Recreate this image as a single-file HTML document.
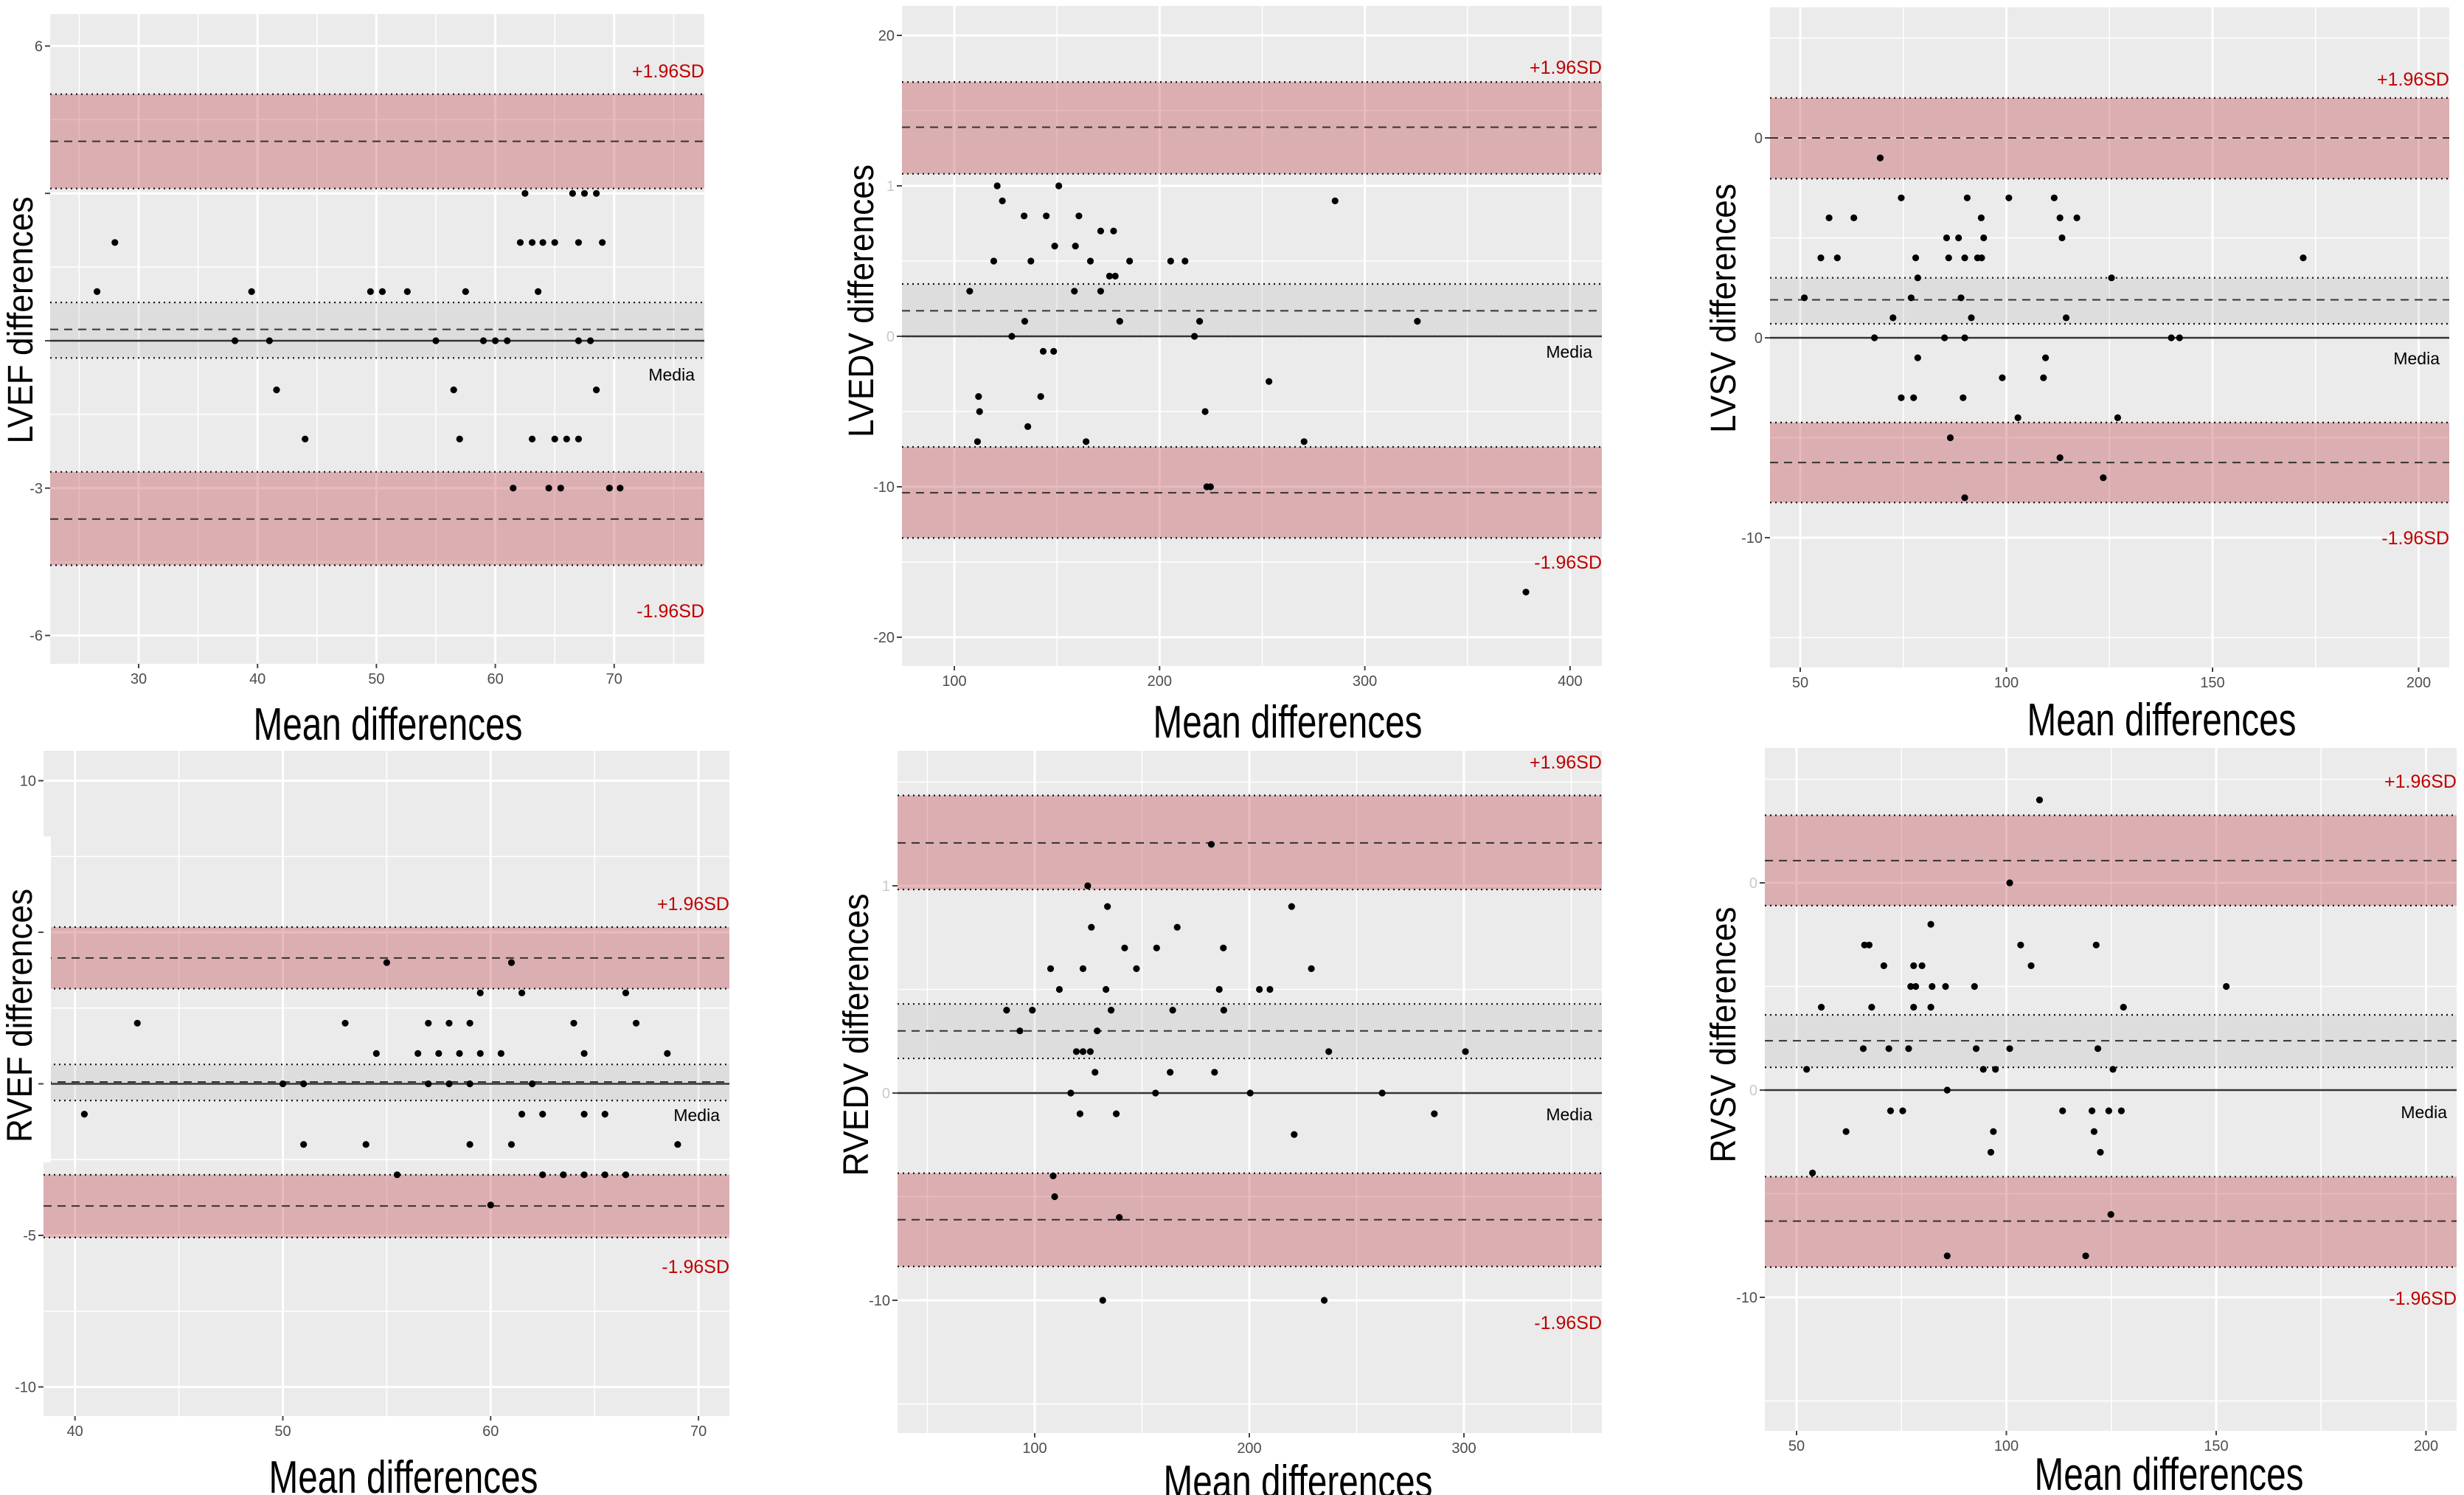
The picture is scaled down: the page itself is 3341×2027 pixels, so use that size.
<!DOCTYPE html>
<html><head><meta charset="utf-8"><style>
html,body{margin:0;padding:0;background:#fff;}
svg{display:block;}
</style></head><body>
<svg id="fig" xmlns="http://www.w3.org/2000/svg" width="3341" height="2027" viewBox="0 0 3341 2027" style="font-family:'Liberation Sans',sans-serif;"></svg>
<script>
// ---------- DATA ----------
// Panel 1: LVEF
const lvefMean = [62.5,66.5,67.5,68.5, 28.0,62.1,63.1,64.0,65.0,67.0,69.0, 26.5,39.5,49.5,50.5,52.6,57.5,63.6, 38.1,41.0,55.0,59.0,60.0,61.0,67.0,68.0, 41.6,56.5,68.5, 44.0,57.0,63.1,65.0,66.0,67.0, 61.5,64.5,65.5,69.6,70.5];
const lvefDiff = [3,3,3,3, 2,2,2,2,2,2,2, 1,1,1,1,1,1,1, 0,0,0,0,0,0,0,0, -1,-1,-1, -2,-2,-2,-2,-2,-2, -3,-3,-3,-3,-3];
const lvefLimits = [5.02,4.06,3.1, 0.78,0.23,-0.35, -2.67,-3.63,-4.57];
// Panel 2: LVEDV
const lvedvMean = [120.9,150.9,123.4,285.5,134,144.8,160.7,171.3,177.6,148.9,159,119.2,137.3,166.3,185.4,205.4,212.4,175.6,178.4,107.5,158.5,171.3,134.3,180.6,219.5,325.6,128,217,143.3,148.4,253.3,111.8,142.1,112.3,222.2,135.8,111.3,164.2,270.4,223,224.8,378.5];
const lvedvDiff = [10,10,9,9,8,8,8,7,7,6,6,5,5,5,5,5,5,4,4,3,3,3,1,1,1,1,0,0,-1,-1,-3,-4,-4,-5,-5,-6,-7,-7,-7,-10,-10,-17];
const lvedvLimits = [16.9,13.9,10.8, 3.48,1.7,0.0, -7.35,-10.4,-13.4];
// Panel 3: LVSV
const lvsvMean = [69.4,74.5,90.5,100.6,111.6,57,63,93.9,113,117.1,85.5,88.4,94.5,113.5,55,59,78,86,89.9,93,94,172,78.5,125.5,51,76.9,89,72.5,91.5,114.5,68,85,89.9,140,142,78.5,109.5,99,109,74.5,77.5,89.5,102.8,127,86.4,113,123.5,89.9];
const lvsvDiff = [9,7,7,7,7,6,6,6,6,6,5,5,5,5,4,4,4,4,4,4,4,4,3,3,2,2,2,1,1,1,0,0,0,0,0,-1,-1,-2,-2,-3,-3,-3,-4,-4,-5,-6,-7,-8];
const lvsvLimits = [12.0,10.0,7.96, 3.0,1.9,0.7, -4.24,-6.24,-8.24];
// Panel 4: RVEF
const rvefMean = [55,61,59.5,61.5,66.5,43,53,57,58,59,64,67,54.5,56.5,57.5,58.5,59.5,60.5,64.5,68.5,50,51,57,58,59,62,40.45,61.5,62.5,64.5,65.5,51,54,59,61,69,55.5,62.5,63.5,64.5,65.5,66.5,60];
const rvefDiff = [4,4,3,3,3,2,2,2,2,2,2,2,1,1,1,1,1,1,1,1,0,0,0,0,0,0,-1,-1,-1,-1,-1,-2,-2,-2,-2,-2,-3,-3,-3,-3,-3,-3,-4];
const rvefLimits = [5.17,4.15,3.14, 0.64,0.06,-0.55, -3.0,-4.03,-5.07];
// Panel 5: RVEDV
const rvedvMean = [182.3,124.7,133.9,219.7,126.4,166.4,141.9,156.8,187.9,107.4,122.5,147.4,228.9,111.5,133.2,186,204.7,209.6,86.9,98.9,135.6,164.3,188.1,93.1,129.1,119.4,122.5,125.9,237,300.7,128.1,163.1,183.8,116.8,156.3,200.4,261.9,121.1,138,286.2,220.9,108.6,109.3,139.4,131.7,234.9];
const rvedvDiff = [12,10,9,9,8,8,7,7,7,6,6,6,6,5,5,5,5,5,4,4,4,4,4,3,3,2,2,2,2,2,1,1,1,0,0,0,0,-1,-1,-1,-2,-4,-5,-6,-10,-10];
const rvedvLimits = [14.36,12.07,9.82, 4.3,3.0,1.67, -3.87,-6.11,-8.37];
// Panel 6: RVSV
const rvsvMean = [107.9,100.8,82,66.2,67.3,103.4,121.4,70.8,77.9,79.9,105.9,77.2,78.4,82.3,85.5,92.4,152.4,55.9,67.9,77.9,82,127.9,65.9,72,76.7,92.8,100.8,121.8,52.4,94.5,97.4,125.4,85.9,72.4,75.3,113.4,120.4,124.4,127.4,61.8,96.9,120.9,96.3,122.4,53.8,124.9,85.9,118.9];
const rvsvDiff = [14,10,8,7,7,7,7,6,6,6,6,5,5,5,5,5,5,4,4,4,4,4,2,2,2,2,2,2,1,1,1,1,0,-1,-1,-1,-1,-1,-1,-2,-2,-2,-3,-3,-4,-6,-8,-8];
const rvsvLimits = [13.26,11.07,8.9, 3.63,2.38,1.1, -4.18,-6.32,-8.54];

// Tick arrays
const p1XTicks=[30,40,50,60,70], p1XMinor=[25,35,45,55,65,75], p1YTicks=[6,3,0,-3,-6], p1YLabels=["6","","","-3","-6"], p1YMinor=[4.5,1.5,-1.5,-4.5];
const p2XTicks=[100,200,300,400], p2XMinor=[150,250,350], p2YTicks=[20,10,0,-10,-20], p2YLabels=["20","1","0","-10","-20"], p2YMinor=[15,5,-5,-15];
const p3XTicks=[50,100,150,200], p3XMinor=[75,125,175], p3YTicks=[10,0,-10], p3YLabels=["0","0","-10"], p3YMinor=[15,5,-5,-15];
const p4XTicks=[40,50,60,70], p4XMinor=[45,55,65], p4YTicks=[10,5,0,-5,-10], p4YLabels=["10","","","-5","-10"], p4YMinor=[7.5,2.5,-2.5,-7.5];
const p5XTicks=[100,200,300], p5XMinor=[50,150,250,350], p5YTicks=[10,0,-10], p5YLabels=["1","0","-10"], p5YMinor=[15,5,-5,-15];
const p6XTicks=[50,100,150,200], p6XMinor=[75,125,175], p6YTicks=[10,0,-10], p6YLabels=["0","0","-10"], p6YMinor=[15,5,-5,-15];

// ---------- LAYOUT ----------
const panels = [
 {id:'lvef', title:'LVEF differences', xs:lvefMean, ys:lvefDiff, lim:lvefLimits, xt:p1XTicks, xm:p1XMinor, yt:p1YTicks, yl:p1YLabels, ym:p1YMinor,
  L:68,R:955,T:19,B:900, x0v:30,x0p:188,xk:16.12, y0p:462,yk:66.6, faint:[],
  plusY:96, mediaY:508, minusY:828, ytX:28, ytY:434, ytLen:335, xtX:526, xtB:1003},
 {id:'lvedv', title:'LVEDV differences', xs:lvedvMean, ys:lvedvDiff, lim:lvedvLimits, xt:p2XTicks, xm:p2XMinor, yt:p2YTicks, yl:p2YLabels, ym:p2YMinor,
  L:1223,R:2172,T:8,B:903, x0v:100,x0p:1294,xk:2.783, y0p:456,yk:20.4, faint:[1,2],
  plusY:91, mediaY:477, minusY:762, ytX:1168, ytY:408, ytLen:370, xtX:1746, xtB:1000},
 {id:'lvsv', title:'LVSV differences', xs:lvsvMean, ys:lvsvDiff, lim:lvsvLimits, xt:p3XTicks, xm:p3XMinor, yt:p3YTicks, yl:p3YLabels, ym:p3YMinor,
  L:2400,R:3321,T:10,B:905, x0v:50,x0p:2441,xk:5.59, y0p:458,yk:27.1, faint:[],
  plusY:107, mediaY:486, minusY:729, ytX:2337, ytY:418, ytLen:338, xtX:2931, xtB:997},
 {id:'rvef', title:'RVEF differences', xs:rvefMean, ys:rvefDiff, lim:rvefLimits, xt:p4XTicks, xm:p4XMinor, yt:p4YTicks, yl:p4YLabels, ym:p4YMinor,
  L:59,R:989,T:1018,B:1920, x0v:40,x0p:101.7,xk:28.18, y0p:1469.5,yk:41.1, faint:[],
  plusY:1225, mediaY:1512, minusY:1717, ytX:27, ytY:1377, ytLen:344, xtX:547, xtB:2024},
 {id:'rvedv', title:'RVEDV differences', xs:rvedvMean, ys:rvedvDiff, lim:rvedvLimits, xt:p5XTicks, xm:p5XMinor, yt:p5YTicks, yl:p5YLabels, ym:p5YMinor,
  L:1217,R:2172,T:1018,B:1943, x0v:100,x0p:1403,xk:2.91, y0p:1482,yk:28.1, faint:[0,1],
  plusY:1033, mediaY:1511, minusY:1793, ytX:1161, ytY:1403, ytLen:383, xtX:1760, xtB:2030},
 {id:'rvsv', title:'RVSV differences', xs:rvsvMean, ys:rvsvDiff, lim:rvsvLimits, xt:p6XTicks, xm:p6XMinor, yt:p6YTicks, yl:p6YLabels, ym:p6YMinor,
  L:2393,R:3331,T:1014,B:1940, x0v:50,x0p:2436,xk:5.69, y0p:1478,yk:28.1, faint:[0,1],
  plusY:1059, mediaY:1508, minusY:1760, ytX:2337, ytY:1403, ytLen:347, xtX:2941, xtB:2020}
];

const NS='http://www.w3.org/2000/svg';
const svg=document.getElementById('fig');
function mk(parent,tag,attrs){
  const el=document.createElementNS(NS,tag);
  for(const k in attrs) el.setAttribute(k,attrs[k]);
  parent.appendChild(el);
  return el;
}

panels.forEach(function(p){
  const sx=function(v){return p.x0p+(v-p.x0v)*p.xk;};
  const sy=function(v){return p.y0p-v*p.yk;};
  const g=mk(svg,'g',{});
  
  
  const bg=mk(g,'rect',{x:p.L,y:p.T,width:p.R-p.L,height:p.B-p.T,fill:'#ebebeb'});
  
  
  // grid
  p.xm.forEach(function(v){
    const l=mk(g,'line',{x1:sx(v),x2:sx(v),y1:p.T,y2:p.B,stroke:'#fff','stroke-width':1.5});
    
    
  });
  p.ym.forEach(function(v){
    const l=mk(g,'line',{x1:p.L,x2:p.R,y1:sy(v),y2:sy(v),stroke:'#fff','stroke-width':1.5});
    
    
  });
  p.xt.forEach(function(v){
    const l=mk(g,'line',{x1:sx(v),x2:sx(v),y1:p.T,y2:p.B,stroke:'#fff','stroke-width':3});
    
    
  });
  p.yt.forEach(function(v){
    const l=mk(g,'line',{x1:p.L,x2:p.R,y1:sy(v),y2:sy(v),stroke:'#fff','stroke-width':3});
    
    
  });
  // bands
  const lim=p.lim;
  const bands=[[lim[0],lim[2],'rgba(190,60,70,0.35)','upper-loa-band'],[lim[3],lim[5],'rgba(160,160,160,0.18)','mean-ci-band'],[lim[6],lim[8],'rgba(190,60,70,0.35)','lower-loa-band']];
  bands.forEach(function(b){
    const r=mk(g,'rect',{x:p.L,y:sy(b[0]),width:p.R-p.L,height:sy(b[1])-sy(b[0]),fill:b[2]});
    
    
  });
  [0,2,3,5,6,8].forEach(function(i){
    const l=mk(g,'line',{x1:p.L,x2:p.R,y1:sy(lim[i]),y2:sy(lim[i]),stroke:'#111','stroke-width':2.2,'stroke-dasharray':'2 5'});
    
    
  });
  [1,4,7].forEach(function(i){
    const l=mk(g,'line',{x1:p.L,x2:p.R,y1:sy(lim[i]),y2:sy(lim[i]),stroke:'#333','stroke-width':2,'stroke-dasharray':'11 8'});
    
    
  });
  const z=mk(g,'line',{x1:p.L,x2:p.R,y1:sy(0),y2:sy(0),stroke:'#333','stroke-width':2.5});
  
  
  // ticks
  p.yt.forEach(function(v,i){
    const t=mk(g,'line',{x1:p.L-7,x2:p.L,y1:sy(v),y2:sy(v),stroke:'#444','stroke-width':2});
    
    
    if(p.yl[i]!==''){
      const tx=mk(g,'text',{x:p.L-10,y:sy(v)+7,'text-anchor':'end','font-size':20,fill:'#4d4d4d'});
      if(p.faint.indexOf(i)>=0) tx.setAttribute('fill-opacity','0.3');
      tx.textContent=p.yl[i];
      
      
    }
  });
  p.xt.forEach(function(v){
    const t=mk(g,'line',{x1:sx(v),x2:sx(v),y1:p.B,y2:p.B+6,stroke:'#444','stroke-width':2});
    
    
    const tx=mk(g,'text',{x:sx(v),y:p.B+27,'text-anchor':'middle','font-size':20,fill:'#4d4d4d'});
    tx.textContent=String(v);
    
    
  });
  // points
  p.xs.forEach(function(xv,i){
    const c=mk(g,'circle',{cx:sx(xv),cy:sy(p.ys[i]),r:4.6,fill:'#000'});
    
    
  });
  // annotations
  const a1=mk(g,'text',{x:p.R,y:p.plusY+9,'text-anchor':'end','font-size':25,fill:'#c00000'});
  a1.textContent='+1.96SD';
  
  
  const a2=mk(g,'text',{x:p.R-13,y:p.mediaY+8,'text-anchor':'end','font-size':23,fill:'#000'});
  a2.textContent='Media';
  
  
  const a3=mk(g,'text',{x:p.R,y:p.minusY+9,'text-anchor':'end','font-size':25,fill:'#c00000'});
  a3.textContent='-1.96SD';
  
  
  // axis titles
  const yt=mk(g,'text',{x:0,y:0,'text-anchor':'middle','font-size':48,fill:'#000',textLength:p.ytLen,lengthAdjust:'spacingAndGlyphs',transform:'translate('+(p.ytX+16)+','+p.ytY+') rotate(-90)'});
  yt.textContent=p.title;
  
  
  const xt=mk(g,'text',{x:p.xtX,y:p.xtB,'text-anchor':'middle','font-size':62,fill:'#000',textLength:365,lengthAdjust:'spacingAndGlyphs'});
  xt.textContent='Mean differences';
  
  
});
// white notch on RVEF left edge
const notch=mk(svg,'rect',{x:59,y:1134,width:10,height:442,fill:'#fff'});


</script>
</body></html>
